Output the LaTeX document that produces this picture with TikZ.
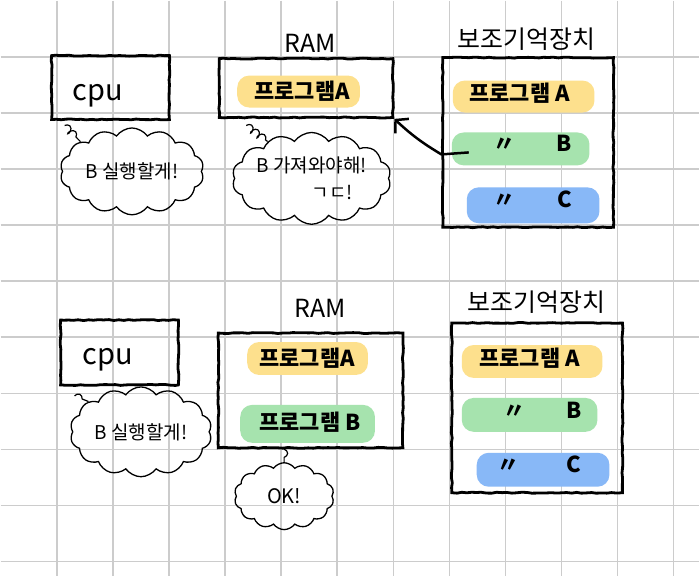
\documentclass[tikz,border=0pt]{standalone}
\usepackage{fontspec}
\newfontfamily\hand{Noto Sans CJK KR}
\usetikzlibrary{arrows.meta,shapes.symbols,decorations.pathmorphing,positioning}
\definecolor{hlyellow}{HTML}{FDE08D}
\definecolor{hlgreen}{HTML}{A6E3AE}
\definecolor{hlblue}{HTML}{88B8F7}

\begin{document}
\begin{tikzpicture}[x=1pt, y=-1pt,
    gridln/.style={draw=black!20, line width=1.5pt},
    memBox/.style={draw, line width=2.8pt, inner sep=0pt, decorate, decoration={random steps, segment length=5pt, amplitude=0.5pt}},
    hl/.style={rounded corners=12pt, inner sep=0pt},
    bigTxt/.style={font=\hand\fontsize{29}{30}\selectfont, inner sep=0pt},
    titleTxt/.style={font=\hand\fontsize{25}{28}\selectfont, inner sep=0pt},
    progTxt/.style={font=\hand\bfseries\fontsize{22}{26}\selectfont, inner sep=0pt},
    speech/.style={cloud, cloud ignores aspect, draw, cloud puffs=14, cloud puff arc=110, line width=1.3pt, inner sep=0pt, align=center, font=\hand\fontsize{19}{27}\selectfont},
    tail/.style={decorate, decoration={coil, amplitude=3.5pt, segment length=8pt, aspect=0.6}, line width=1.2pt},
    fetch/.style={-{Straight Barb[length=9pt, width=20pt]}, line width=2.5pt}
]
\fill[white] (0,0) rectangle (700,576);
\foreach \i in {1,...,12} \draw[gridln] (\i*56.2,0) -- (\i*56.2,576);
\foreach \j in {1,...,10} \draw[gridln] (0,\j*56.2) -- (700,\j*56.2);
\useasboundingbox (0,0) rectangle (700,576);

\node[memBox, minimum width=118pt, minimum height=64pt] (cpu1) at (110,87) {};
\node[bigTxt] (cpu1txt) at (97,95) {cpu};
\node[titleTxt] (ram1title) at (310,43) {RAM};
\node[memBox, minimum width=174pt, minimum height=59pt] (ram1) at (306,87.5) {};
\node[hl, fill=hlyellow, minimum width=123pt, minimum height=32pt] (ram1a) at (298.5,91) {};
\node[progTxt] (ram1atxt) at (302,91) {프로그램A};
\node[titleTxt] (aux1title) at (527,39) {보조기억장치};
\node[memBox, minimum width=171pt, minimum height=170pt] (aux1) at (528.5,142) {};
\node[hl, fill=hlyellow, minimum width=142pt, minimum height=32pt] (aux1a) at (524,96) {};
\node[progTxt] (aux1atxt) at (520,93) {프로그램 A};
\node[hl, fill=hlgreen, minimum width=138pt, minimum height=33pt] (aux1b) at (521,148.5) {};
\node[progTxt] (aux1btxt) at (533,143) {〃\hspace{42pt}B};
\node[hl, fill=hlblue, minimum width=133pt, minimum height=36pt] (aux1c) at (533.5,205) {};
\node[progTxt] (aux1ctxt) at (533,199) {〃\hspace{42pt}C};
\node[speech, minimum width=144pt, minimum height=87pt] (say1) at (131.5,171) {B 실행할게!};
\node[speech, minimum width=142pt, minimum height=92pt] (say2) at (311.5,178) {B 가져와야해!\\\hspace*{2.2em}ㄱㄷ!};
\coordinate (t1) at (64,125);
\coordinate (t2) at (246,125);
\coordinate (fetchstart) at (469,152);

\draw[tail] (t1) -- (say1.150);
\draw[tail] (t2) -- (say2.140);
\draw[fetch] (fetchstart) -- ([yshift=-12pt]aux1.west) to[bend left=6] (ram1.south east);

\node[memBox, minimum width=118pt, minimum height=65pt] (cpu2) at (119,352.5) {};
\node[bigTxt] (cpu2txt) at (107,360) {cpu};
\node[titleTxt] (ram2title) at (320,308) {RAM};
\node[memBox, minimum width=185pt, minimum height=115pt] (ram2) at (310.5,390.5) {};
\node[hl, fill=hlyellow, minimum width=121pt, minimum height=33pt] (ram2a) at (307.5,358.5) {};
\node[progTxt] (ram2atxt) at (307,358) {프로그램A};
\node[hl, fill=hlgreen, minimum width=135pt, minimum height=38pt] (ram2b) at (307.5,424) {};
\node[progTxt] (ram2btxt) at (310,422) {프로그램 B};
\node[titleTxt] (aux2title) at (537,302) {보조기억장치};
\node[memBox, minimum width=171pt, minimum height=170pt] (aux2) at (537.5,408) {};
\node[hl, fill=hlyellow, minimum width=141pt, minimum height=33pt] (aux2a) at (532.5,361.5) {};
\node[progTxt] (aux2atxt) at (530,358) {프로그램 A};
\node[hl, fill=hlgreen, minimum width=136pt, minimum height=34pt] (aux2b) at (530,415) {};
\node[progTxt] (aux2btxt) at (543,410) {〃\hspace{42pt}B};
\node[hl, fill=hlblue, minimum width=133pt, minimum height=34pt] (aux2c) at (543.5,470) {};
\node[progTxt] (aux2ctxt) at (540,465) {〃\hspace{47pt}C};
\node[speech, minimum width=142pt, minimum height=90pt] (say3) at (140.5,432) {B 실행할게!};
\node[speech, minimum width=100pt, minimum height=67pt, font=\hand\fontsize{20}{24}\selectfont] (say4) at (284,496.5) {OK!};
\coordinate (t3) at (74,396);

\draw[tail] (t3) -- (say3.150);
\draw[tail] (ram2.south -| say4.north) -- (say4.north);
\end{tikzpicture}
\end{document}
